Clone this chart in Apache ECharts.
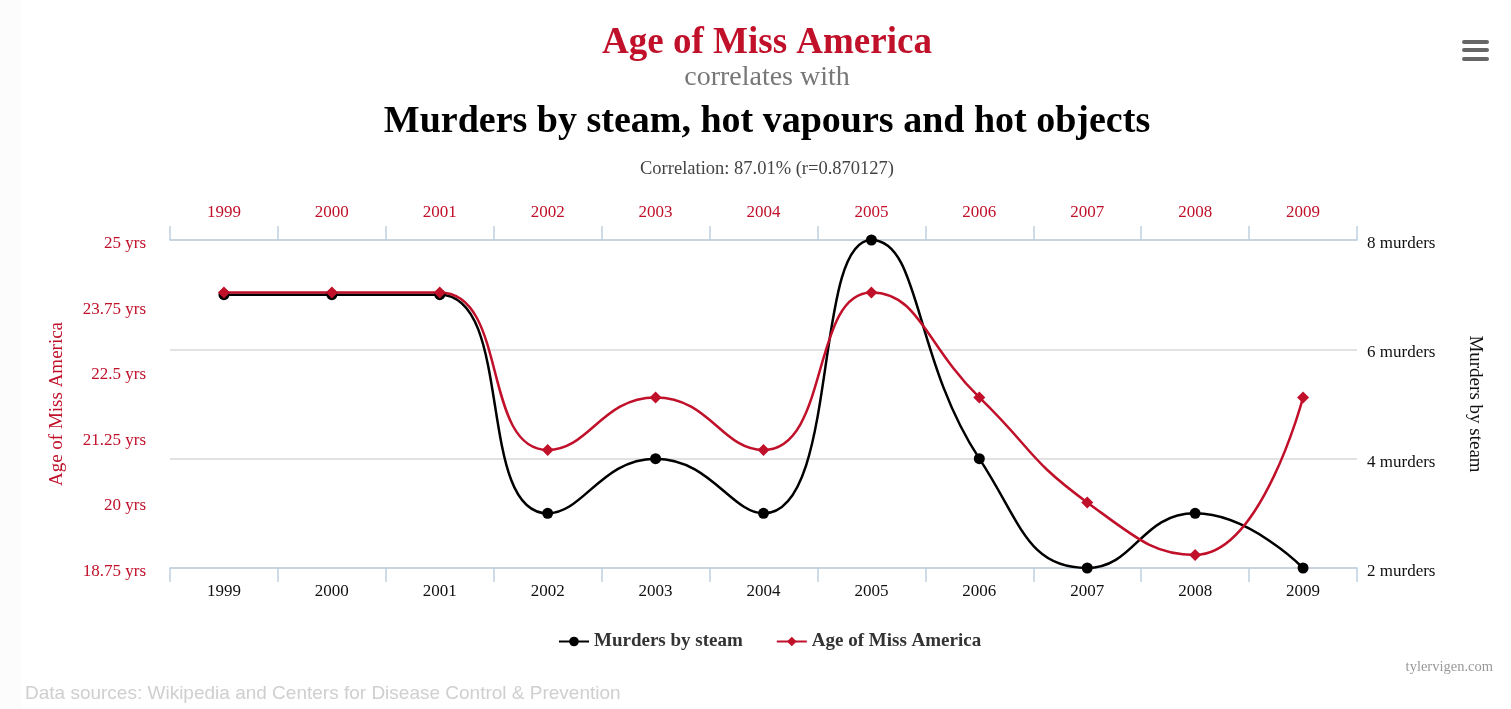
<!DOCTYPE html>
<html>
<head>
<meta charset="utf-8">
<title>Age of Miss America correlates with Murders by steam</title>
<script src="https://cdn.jsdelivr.net/npm/echarts@6/dist/echarts.min.js"></script>
<style>
	html, body { margin: 0; padding: 0; background: #fff; }
	#chart { width: 1511px; height: 709px; }
</style>
</head>
<body>
<div id="chart"></div>
<script>
	// data
	var years = ['1999', '2000', '2001', '2002', '2003', '2004', '2005', '2006', '2007', '2008', '2009'];
	var murders = [7, 7, 7, 3, 4, 3, 8, 4, 2, 3, 2];
	var missAge = [24, 24, 24, 21, 22, 21, 24, 22, 20, 19, 22];
	var ageTicks = { min: 18.75, max: 25, step: 1.25 };
	var murderTicks = { min: 2, max: 8, step: 2 };

	var red = '#c0102a';
	var serif = '"Liberation Serif", "Times New Roman", serif';
	var axisBlue = '#c0d0e0';

	var chart = echarts.init(document.getElementById('chart'));
	var option = {
		backgroundColor: '#fff',
		animation: false,
		grid: { left: 170, right: 154, top: 240, bottom: 141 },
		legend: {
			left: 553, top: 627,
			itemGap: 33, itemWidth: 30, itemHeight: 12,
			textStyle: { fontFamily: serif, fontSize: 19, fontWeight: 'bold', color: '#333' },
			data: ['Murders by steam', 'Age of Miss America']
		},
		xAxis: [
			{
				type: 'category', position: 'bottom', data: years, boundaryGap: true,
				axisLine: { show: true, lineStyle: { color: axisBlue, width: 1.5 } },
				axisTick: { show: true, interval: 0, length: 14, lineStyle: { color: axisBlue, width: 1.5 } },
				axisLabel: { color: '#111', fontFamily: serif, fontSize: 17, margin: 15 }
			},
			{
				type: 'category', position: 'top', data: years, boundaryGap: true,
				axisLine: { show: true, lineStyle: { color: axisBlue, width: 1.5 } },
				axisTick: { show: true, interval: 0, length: 14, lineStyle: { color: axisBlue, width: 1.5 } },
				axisLabel: { color: red, fontFamily: serif, fontSize: 17, margin: 19 }
			}
		],
		yAxis: [
			{
				type: 'value', position: 'left',
				min: ageTicks.min, max: ageTicks.max, interval: ageTicks.step,
				name: 'Age of Miss America', nameLocation: 'middle', nameGap: 103,
				nameTextStyle: { color: red, fontFamily: serif, fontSize: 19 },
				axisLine: { show: false }, axisTick: { show: false }, splitLine: { show: false },
				axisLabel: { color: red, fontFamily: serif, fontSize: 17, margin: 24,
					verticalAlign: 'top', lineHeight: 7,
					formatter: function (v) { return v + ' yrs'; } }
			},
			{
				type: 'value', position: 'right',
				min: murderTicks.min, max: murderTicks.max, interval: murderTicks.step,
				name: 'Murders by steam', nameLocation: 'middle', nameGap: 108, nameRotate: -90,
				nameTextStyle: { color: '#111', fontFamily: serif, fontSize: 19 },
				axisLine: { show: false }, axisTick: { show: false },
				splitLine: { lineStyle: { color: '#d8d8d8', width: 1.5 } },
				axisLabel: { color: '#111', fontFamily: serif, fontSize: 17, margin: 10,
					verticalAlign: 'top', lineHeight: 7,
					formatter: function (v) { return v + ' murders'; } }
			}
		],
		series: [
			{
				name: 'Murders by steam', type: 'line', yAxisIndex: 1, data: murders,
				smooth: 0.5, symbol: 'circle', symbolSize: 11,
				lineStyle: { color: '#000', width: 2.5 }, itemStyle: { color: '#000' }
			},
			{
				name: 'Age of Miss America', type: 'line', yAxisIndex: 0, data: missAge,
				smooth: 0.5, symbol: 'diamond', symbolSize: 12,
				lineStyle: { color: red, width: 2.5 }, itemStyle: { color: red }
			}
		],
		graphic: [
			{ type: 'rect', left: 0, top: 0, z: -10, shape: { width: 22, height: 709 }, style: { fill: '#fcfcfc' } },
			{ type: 'text', x: 767, y: 43, style: { text: 'Age of Miss America', fill: red, font: 'bold 37px ' + serif, textAlign: 'center', textVerticalAlign: 'middle' } },
			{ type: 'text', x: 767, y: 78, style: { text: 'correlates with', fill: '#777', font: '28px ' + serif, textAlign: 'center', textVerticalAlign: 'middle' } },
			{ type: 'text', x: 767, y: 122, style: { text: 'Murders by steam, hot vapours and hot objects', fill: '#000', font: 'bold 38px ' + serif, textAlign: 'center', textVerticalAlign: 'middle' } },
			{ type: 'text', x: 767, y: 169, style: { text: 'Correlation: 87.01% (r=0.870127)', fill: '#444', font: '18.5px ' + serif, textAlign: 'center', textVerticalAlign: 'middle' } },
			{ type: 'text', x: 1493, y: 667, style: { text: 'tylervigen.com', fill: '#999', font: '14.5px ' + serif, textAlign: 'right', textVerticalAlign: 'middle' } },
			{ type: 'text', x: 25, y: 694, style: { text: 'Data sources: Wikipedia and Centers for Disease Control & Prevention', fill: '#cfcfcf', font: '19px "Liberation Sans", Arial, sans-serif', textAlign: 'left', textVerticalAlign: 'middle' } },
			// menu icon
			{ type: 'rect', shape: { x: 1462, y: 40, width: 27, height: 4, r: 2 }, style: { fill: '#666' } },
			{ type: 'rect', shape: { x: 1462, y: 48, width: 27, height: 4, r: 2 }, style: { fill: '#666' } },
			{ type: 'rect', shape: { x: 1462, y: 57, width: 27, height: 4, r: 2 }, style: { fill: '#666' } }
		]
	};
	chart.setOption(option);
</script>
</body>
</html>
